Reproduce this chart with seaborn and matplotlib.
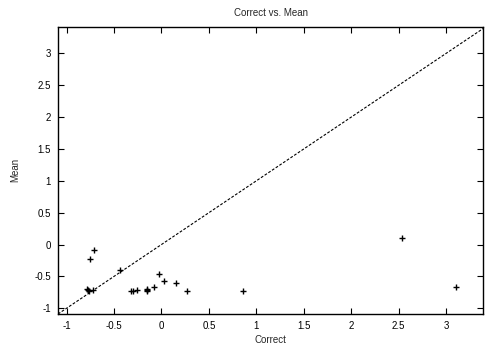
import matplotlib
matplotlib.use("Agg")
import matplotlib.pyplot as plt
import seaborn as sns
import pandas as pd
import numpy as np

correct = [-0.71, -0.75, -0.44, -0.78, -0.77, -0.76, -0.72, -0.325, -0.30, -0.26,
           -0.15, -0.15, -0.15, -0.08, -0.03, 0.03, 0.15, 0.27, 0.86, 2.54, 3.11]
mean = [-0.09, -0.22, -0.40, -0.70, -0.72, -0.73, -0.71, -0.73, -0.73, -0.71,
        -0.69, -0.73, -0.71, -0.67, -0.46, -0.57, -0.60, -0.73, -0.73, 0.10, -0.66]
xticks = [-1, -0.5, 0, 0.5, 1, 1.5, 2, 2.5, 3]
yticks = [-1, -0.5, 0, 0.5, 1, 1.5, 2, 2.5, 3]
xlim = (-1.09, 3.39)
ylim = (-1.09, 3.42)

df = pd.DataFrame({"Correct": correct, "Mean": mean})

sns.set_style("ticks")
plt.rcParams['font.family'] = ['Liberation Sans', 'DejaVu Sans']

fig = plt.figure(figsize=(4.87, 3.5), dpi=100)
ax = fig.add_axes([58/487, 1-314/350, (483-58)/487, (314-26.7)/350])

line = np.array([min(xlim[0], ylim[0]), max(xlim[1], ylim[1])])
ax.plot(line, line, color="black", linestyle=(0, (2.5, 1.5)), linewidth=0.8)
sns.scatterplot(data=df, x="Correct", y="Mean", marker="+", color="black",
                s=16, linewidth=1.0, ax=ax, zorder=3)

ax.set_xlim(*xlim)
ax.set_ylim(*ylim)
ax.set_xticks(xticks)
ax.set_yticks(yticks)
ax.set_xticklabels([f"{t:g}" for t in xticks])
ax.set_yticklabels([f"{t:g}" for t in yticks])
ax.tick_params(direction="in", top=True, right=True, length=4, width=0.8,
               labelsize=7, pad=5, colors="black")
for sp in ax.spines.values():
    sp.set_visible(True)
    sp.set_linewidth(1.0)
    sp.set_color("black")

ax.set_title("Correct vs. Mean", fontsize=7, pad=8)
ax.set_xlabel("Correct", fontsize=7, labelpad=3)
ax.set_ylabel("Mean", fontsize=7, labelpad=10)

fig.savefig("out.png", dpi=100)
